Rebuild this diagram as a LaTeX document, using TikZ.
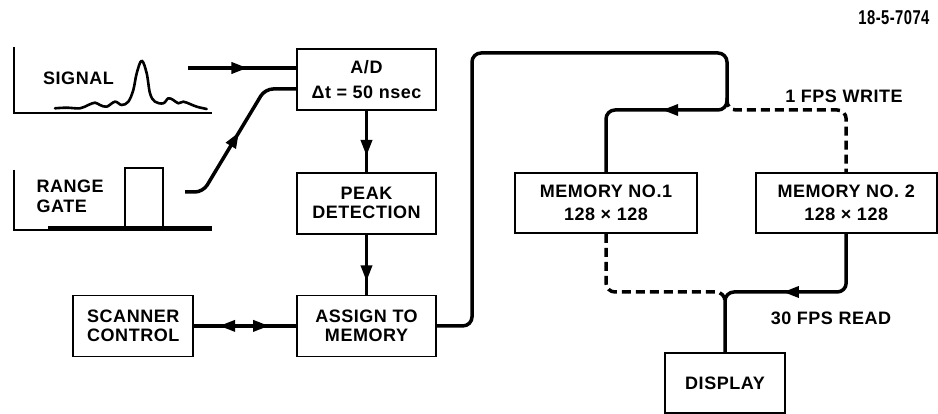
\documentclass[tikz,border=0pt]{standalone}
\usepackage{fontspec}
\setmainfont{Liberation Sans}[LetterSpace=3]
\usetikzlibrary{arrows.meta,positioning,decorations.markings}

\begin{document}
\begin{tikzpicture}[
    x=1pt, y=1pt,
    font=\bfseries\fontsize{18}{19}\selectfont,
    >={Triangle[length=16pt,width=11pt]},
    blk/.style={draw, line width=1.7pt, minimum width=139pt, minimum height=61pt, align=center, inner sep=2pt},
    conn/.style={line width=3.5pt, rounded corners=9pt},
    dconn/.style={conn, dash pattern=on 9pt off 5pt},
    midtip/.style={postaction={decorate}, decoration={markings, mark=at position #1 with {\arrow{>}}}},
    bothtip/.style 2 args={postaction={decorate}, decoration={markings,
        mark=at position #1 with {\arrowreversed{>}}, mark=at position #2 with {\arrow{>}}}},
    axis/.style={line width=1.6pt}
]
    \useasboundingbox (0,0) rectangle (938,414);

    % processing chain
    \node[blk] (ad) at (366.5,334.5) {A/D\\[6pt]Δt = 50 nsec};
    \node[blk, below=61pt of ad] (peak) {PEAK\\DETECTION};
    \node[blk, below=60pt of peak] (assign) {ASSIGN TO\\MEMORY};
    \node[blk, minimum width=120pt, left=102pt of assign] (scan) {SCANNER\\CONTROL};

    % memories and display
    \node[blk, minimum width=182pt, minimum height=60pt] (mem1) at (606,211) {MEMORY NO.1\\[4pt]128 × 128};
    \node[blk, minimum width=181pt, minimum height=60pt, right=57pt of mem1] (mem2) {MEMORY NO. 2\\[4pt]128 × 128};
    \node[blk, minimum width=120pt, minimum height=60pt] (display) at (725,31) {DISPLAY};

    \node (wlabel) at (844,317.5) {1 FPS WRITE};
    \node (rlabel) at (831,95.5) {30 FPS READ};
    \node[anchor=east, font=\bfseries\fontsize{20}{20}\selectfont] (figno) at (933,396) {\scalebox{0.74}[1]{18-5-7074}};

    % signal trace
    \node (sigtxt) at (78.5,335.5) {SIGNAL};
    \draw[axis] (14,367) -- (14,301) -- (212,301);
    \draw[line width=2.6pt, line join=round, line cap=round] plot[smooth, tension=0.6] coordinates {
        (55,305.7) (66.7,306.3) (80,305.7) (88.3,309) (95,311.3) (100,309) (106.7,307.3)
        (115,312.3) (121.7,309) (128.3,312.3) (133.3,324) (136.7,340.7) (141.7,353.3)
        (146.7,340.7) (150,320.7) (155,312.3) (163.3,310.7) (168.3,315.7) (173.3,314)
        (178.3,310.7) (183.3,312.3) (190,310) (196.7,307.3) (206.7,305)};

    % range gate trace
    \node[align=left, anchor=west, font=\bfseries\fontsize{18}{20}\selectfont] (gatetxt) at (33,218) {RANGE\\GATE};
    \draw[axis] (14,244) -- (14,184) -- (212,184);
    \draw[line width=3.5pt] (48,186) -- (212,186);
    \draw[line width=1.7pt] (125,186) -- (125,246) -- (163,246) -- (163,186);

    % inputs to A/D
    \coordinate (sigout) at (188,346);
    \coordinate (gateout) at (185,222);
    \coordinate (gatebend) at (265,325);
    \draw[conn, midtip=0.55] (sigout) -- (sigout -| ad.west);
    \draw[conn, rounded corners=8pt, midtip=0.52] (gateout) -- (203,222) -- (gatebend) -- (gatebend -| ad.west);

    \draw[conn, midtip=0.74] (ad) -- (peak);
    \draw[conn, midtip=0.78] (peak) -- (assign);
    \draw[conn, bothtip={0.245}{0.735}] (scan) -- (assign);

    % write loop
    \coordinate (loopL) at (472,361);
    \coordinate (wfork) at (727,304);
    \draw[conn, midtip=0.854] (assign.east) -| (loopL) -| (wfork) -| (mem1.north);
    \draw[dconn] ([yshift=12pt]wfork) -- (wfork) -| (mem2.north);

    % read to display
    \coordinate (rfork) at (725,122);
    \draw[conn, midtip=0.507] (mem2.south) |- (rfork) -- (display.north);
    \draw[dconn] (mem1.south) |- (rfork) -- ++(0,-12);
\end{tikzpicture}
\end{document}
